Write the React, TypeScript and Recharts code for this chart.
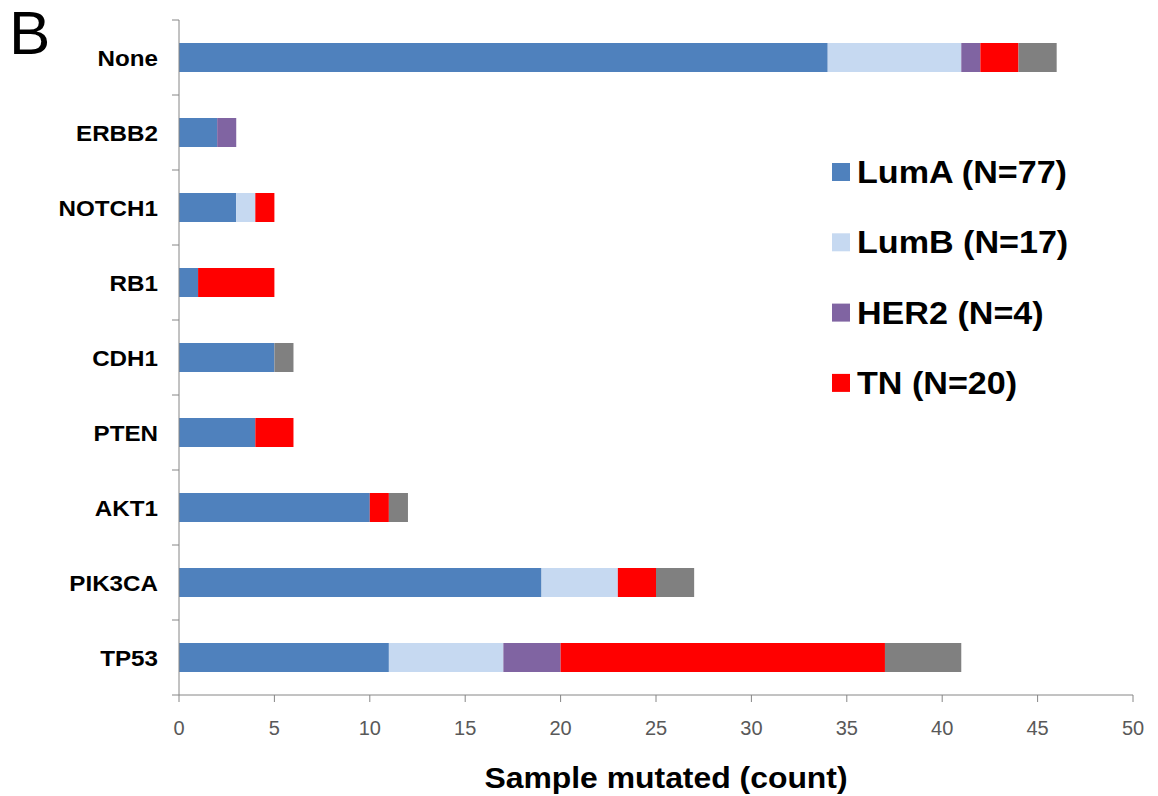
import React from "react";
import { BarChart, Bar, XAxis, YAxis, Legend } from "recharts";

const genes = ["None", "ERBB2", "NOTCH1", "RB1", "CDH1", "PTEN", "AKT1", "PIK3CA", "TP53"];
const lumA = [34, 2, 3, 1, 5, 4, 10, 19, 11];
const lumB = [7, 0, 1, 0, 0, 0, 0, 4, 6];
const her2 = [1, 1, 0, 0, 0, 0, 0, 0, 3];
const tn = [2, 0, 1, 4, 0, 2, 1, 2, 17];
const other = [2, 0, 0, 0, 1, 0, 1, 2, 4];
const xTicks = [0, 5, 10, 15, 20, 25, 30, 35, 40, 45, 50];

const legendOrder = ["LumA (N=77)", "LumB (N=17)", "HER2 (N=4)", "TN (N=20)"];

const colors = {
  lumA: "#4F81BD",
  lumB: "#C6D9F1",
  her2: "#8064A2",
  tn: "#FF0000",
  other: "#808080",
};

const data = genes.map((g, i) => ({
  gene: g,
  lumA: lumA[i],
  lumB: lumB[i],
  her2: her2[i],
  tn: tn[i],
  other: other[i],
}));

const W = 1158;
const H = 796;
const M_TOP = 20;
const M_RIGHT = 25;
const X_AXIS_H = 101;
const Y_AXIS_W = 179;
const BAND = (H - M_TOP - X_AXIS_H) / genes.length;
const AXIS_COLOR = "#868686";
const FONT = "'Liberation Sans', Arial, sans-serif";

const YTick = (props: any) => {
  const { x, y, payload, index } = props;
  const half = BAND / 2;
  return (
    <g>
      <line x1={x - 7} x2={x} y1={y - half} y2={y - half} stroke={AXIS_COLOR} />
      {index === genes.length - 1 && (
        <line x1={x - 7} x2={x} y1={y + half} y2={y + half} stroke={AXIS_COLOR} />
      )}
      <g transform={`translate(${x - 21},${y + 8}) scale(1.1,1)`}>
        <text
          x={0}
          y={0}
          textAnchor="end"
          fontFamily={FONT}
          fontWeight="bold"
          fontSize={22}
          fill="#000"
        >
          {payload.value}
        </text>
      </g>
    </g>
  );
};

const LegendContent = (props: any) => {
  const items = (props.payload || [])
    .filter((p: any) => legendOrder.includes(p.value))
    .sort((a: any, b: any) => legendOrder.indexOf(a.value) - legendOrder.indexOf(b.value));
  return (
    <svg width={290} height={300} style={{ display: "block" }}>
      {items.map((p: any, i: number) => {
        const cy = 32 + i * 70.3;
        return (
          <g key={p.value}>
            <rect x={12} y={cy - 9} width={18} height={18} fill={p.color} />
            <g transform={`translate(37,${cy + 11}) scale(1.1,1)`}>
              <text x={0} y={0} fontFamily={FONT} fontWeight="bold" fontSize={31} fill="#000">
                {p.value}
              </text>
            </g>
          </g>
        );
      })}
    </svg>
  );
};

const XTitle = (props: any) => {
  const { viewBox } = props;
  const cx = viewBox.x + viewBox.width / 2 + 10;
  return (
    <g transform={`translate(${cx},${viewBox.y + 93}) scale(1.1,1)`}>
      <text x={0} y={0} textAnchor="middle" fontFamily={FONT} fontWeight="bold" fontSize={29} fill="#000">
        Sample mutated (count)
      </text>
    </g>
  );
};

export default function App() {
  return (
    <div style={{ position: "absolute", left: 0, top: 0, width: W, height: H, background: "#fff" }}>
      <div
        style={{
          position: "absolute",
          left: 9,
          top: -3,
          fontFamily: FONT,
          fontSize: 62,
          lineHeight: "72px",
          color: "#000",
          zIndex: 2,
        }}
      >
        B
      </div>
      <BarChart
        width={W}
        height={H}
        data={data}
        layout="vertical"
        margin={{ top: M_TOP, right: M_RIGHT, bottom: 0, left: 0 }}
        barSize={29}
      >
        <XAxis
          type="number"
          domain={[0, 50]}
          ticks={xTicks}
          interval={0}
          height={X_AXIS_H}
          tickSize={7}
          tickMargin={19}
          stroke={AXIS_COLOR}
          tickLine={{ stroke: AXIS_COLOR }}
          axisLine={{ stroke: AXIS_COLOR }}
          tick={{ fill: "#595959", fontSize: 20, fontFamily: FONT }}
          label={<XTitle />}
        />
        <YAxis
          type="category"
          dataKey="gene"
          width={Y_AXIS_W}
          tickSize={0}
          tickMargin={0}
          tickLine={false}
          axisLine={{ stroke: AXIS_COLOR }}
          tick={<YTick />}
          interval={0}
        />
        <Legend
          layout="horizontal"
          verticalAlign="middle"
          align="center"
          content={<LegendContent />}
          wrapperStyle={{ position: "absolute", left: 820, top: 140, width: 290, height: 300 }}
        />
        <Bar dataKey="lumA" name="LumA (N=77)" stackId="s" fill={colors.lumA} isAnimationActive={false} />
        <Bar dataKey="lumB" name="LumB (N=17)" stackId="s" fill={colors.lumB} isAnimationActive={false} />
        <Bar dataKey="her2" name="HER2 (N=4)" stackId="s" fill={colors.her2} isAnimationActive={false} />
        <Bar dataKey="tn" name="TN (N=20)" stackId="s" fill={colors.tn} isAnimationActive={false} />
        <Bar dataKey="other" name="Other" stackId="s" fill={colors.other} legendType="none" isAnimationActive={false} />
      </BarChart>
    </div>
  );
}
